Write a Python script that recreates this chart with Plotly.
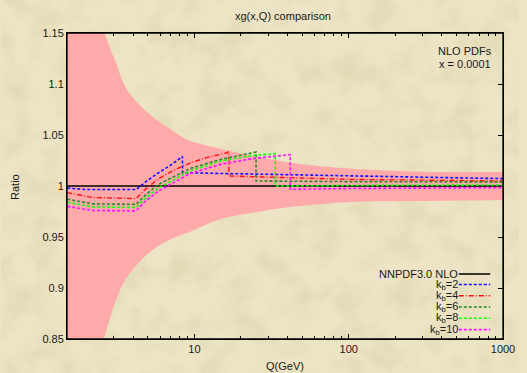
import plotly.graph_objects as go
import base64

# ---------------- data ----------------
band_q = [1.5, 2.0, 2.61, 3.10, 3.59, 4.58, 5.85, 7.46, 9.07, 14.75, 24.05, 39.15, 63.4, 103.8, 274, 1000]
band_up = [0.31, 0.21, 0.150, 0.121, 0.096, 0.077, 0.0635, 0.053, 0.045, 0.0365, 0.0293, 0.0235, 0.0196, 0.017, 0.0143, 0.0137]
band_dn = [0.31, 0.21, 0.148, 0.112, 0.0912, 0.0717, 0.0587, 0.0504, 0.0456, 0.0326, 0.026, 0.0212, 0.0179, 0.0156, 0.0147, 0.0137]

nnpdf_q = [1.5, 1000]
nnpdf_r = [1.0, 1.0]

kb2_q = [1.5, 2.0, 4.18, 4.92, 5.85, 7.10, 8.22, 8.36, 8.36, 39.0, 100, 1000]
kb2_r = [0.998, 0.9965, 0.9965, 1.005, 1.013, 1.021, 1.028, 1.029, 1.013, 1.011, 1.0095, 1.0072]

kb4_q = [1.5, 2.2, 4.18, 4.81, 5.85, 7.46, 9.51, 12.15, 16.27, 16.72, 16.72, 39.15, 100, 1000]
kb4_r = [0.9935, 0.9887, 0.9877, 0.9968, 1.0072, 1.016, 1.023, 1.028, 1.0326, 1.0336, 1.0098, 1.0082, 1.0065, 1.0049]

kb6_q = [1.5, 2.2, 4.18, 4.81, 5.85, 9.3, 14.75, 20.0, 25.08, 25.08, 39.0, 100, 1000]
kb6_r = [0.987, 0.9825, 0.982, 0.991, 1.0017, 1.017, 1.026, 1.030, 1.0333, 1.0049, 1.0046, 1.0043, 1.004]

kb8_q = [1.5, 2.2, 4.18, 4.81, 5.85, 9.3, 14.75, 24.05, 33.44, 33.44, 100, 1000]
kb8_r = [0.984, 0.9795, 0.979, 0.988, 0.998, 1.0145, 1.0245, 1.030, 1.0317, 1.000, 1.0005, 1.001]

kb10_q = [1.5, 2.2, 4.18, 4.81, 5.85, 9.3, 14.75, 24.05, 41.8, 41.8, 100, 1000]
kb10_r = [0.980, 0.976, 0.9756, 0.985, 0.995, 1.012, 1.0212, 1.027, 1.0307, 0.9968, 0.9975, 0.9984]

legend_labels = ["NNPDF3.0 NLO", "k<sub>b</sub>=2", "k<sub>b</sub>=4", "k<sub>b</sub>=6",
                 "k<sub>b</sub>=8", "k<sub>b</sub>=10"]
y_ticks = [0.85, 0.9, 0.95, 1.0, 1.05, 1.1, 1.15]
y_ticklabels = ["0.85", "0.9", "0.95", "1", "1.05", "1.1", "1.15"]
x_ticks = [10, 100, 1000]
x_ticklabels = ["10", "100", "1000"]
x_minor = [2, 3, 4, 5, 6, 7, 8, 9, 20, 30, 40, 50, 60, 70, 80, 90,
           200, 300, 400, 500, 600, 700, 800, 900]

# ---------------- styling ----------------
W, H = 527, 373
ML, MR, MT, MB = 67, 16, 33, 34
PW, PH = W - ML - MR, H - MT - MB
BG = "#ece4c4"
FONT = "Liberation Sans, Arial, sans-serif"
TXT = "#1a1a1a"


def px(xp):
    return (xp - ML) / PW


def py(yp):
    return (H - MB - yp) / PH


series = [
    (nnpdf_q, nnpdf_r, "#000000", "solid", 1.6),
    (kb2_q, kb2_r, "#1010ff", "3px,2px", 1.6),
    (kb4_q, kb4_r, "#ff1010", "5px,2px,1px,2px", 1.4),
    (kb6_q, kb6_r, "#238b23", "3px,2px", 1.6),
    (kb8_q, kb8_r, "#10ff10", "3px,2px", 1.6),
    (kb10_q, kb10_r, "#ff10ff", "3px,2px", 1.6),
]

fig = go.Figure()

# parchment-like background texture (decorative)
svg = (
    f"<svg xmlns='http://www.w3.org/2000/svg' width='{W}' height='{H}'>"
    "<filter id='n'><feTurbulence type='fractalNoise' baseFrequency='0.035' numOctaves='3' seed='7'/>"
    "<feColorMatrix type='matrix' values='0 0 0 0 0.55 0 0 0 0 0.47 0 0 0 0 0.25 0 0 0 1.6 -0.7'/></filter>"
    f"<rect width='{W}' height='{H}' fill='{BG}'/>"
    f"<rect width='{W}' height='{H}' filter='url(#n)' opacity='0.35'/></svg>"
)
src = "data:image/svg+xml;base64," + base64.b64encode(svg.encode()).decode()
fig.add_layout_image(dict(source=src, xref="paper", yref="paper", x=px(0), y=py(0),
                          sizex=W / PW, sizey=H / PH, xanchor="left", yanchor="top",
                          sizing="stretch", layer="below"))

# error band
upper = [1 + u for u in band_up]
lower = [1 - d for d in band_dn]
fig.add_trace(go.Scatter(x=band_q, y=lower, mode="lines",
                         line=dict(width=0, color="#ffaaaa", shape="spline", smoothing=1.0),
                         showlegend=False, hoverinfo="skip"))
fig.add_trace(go.Scatter(x=band_q, y=upper, mode="lines",
                         line=dict(width=0, color="#ffaaaa", shape="spline", smoothing=1.0),
                         fill="tonexty", fillcolor="#ffaaaa", showlegend=False, hoverinfo="skip"))

for (q, r, col, dash, w), name in zip(series, legend_labels):
    fig.add_trace(go.Scatter(x=q, y=r, mode="lines", name=name,
                             line=dict(color=col, dash=dash, width=w), showlegend=False))

shapes = [dict(type="rect", xref="paper", yref="paper", x0=0, x1=1, y0=0, y1=1,
               line=dict(color="#000000", width=1.3), layer="above")]
annotations = []

# custom legend (text on the left, sample on the right, as in gnuplot)
row_y = [274, 284.5, 295.7, 307, 318.3, 329.6]
for (q, r, col, dash, w), name, yy in zip(series, legend_labels, row_y):
    shapes.append(dict(type="line", xref="paper", yref="paper", x0=px(466), x1=px(498),
                       y0=py(yy), y1=py(yy), line=dict(color=col, dash=dash, width=w)))
    annotations.append(dict(text=name, xref="paper", yref="paper", x=px(467), y=py(yy),
                            xanchor="right", yanchor="middle", showarrow=False,
                            font=dict(family=FONT, size=11, color=TXT)))

annotations += [
    dict(text="NLO PDFs", xref="paper", yref="paper", x=px(472), y=py(50.5),
         xanchor="center", yanchor="middle", showarrow=False,
         font=dict(family=FONT, size=11, color=TXT)),
    dict(text="x = 0.0001", xref="paper", yref="paper", x=px(472), y=py(64.5),
         xanchor="center", yanchor="middle", showarrow=False,
         font=dict(family=FONT, size=11, color=TXT)),
    dict(text="xg(x,Q) comparison", xref="paper", yref="paper", x=px(287), y=py(16),
         xanchor="center", yanchor="middle", showarrow=False,
         font=dict(family=FONT, size=11, color=TXT)),
    dict(text="Q(GeV)", xref="paper", yref="paper", x=px(289), y=py(366),
         xanchor="center", yanchor="middle", showarrow=False,
         font=dict(family=FONT, size=11, color=TXT)),
    dict(text="Ratio", xref="paper", yref="paper", x=px(14), y=py(187),
         xanchor="center", yanchor="middle", showarrow=False, textangle=-90,
         font=dict(family=FONT, size=11, color=TXT)),
]

fig.update_layout(
    width=W, height=H,
    margin=dict(l=ML, r=MR, t=MT, b=MB, pad=0),
    paper_bgcolor=BG, plot_bgcolor="rgba(0,0,0,0)",
    showlegend=False,
    shapes=shapes, annotations=annotations,
    font=dict(family=FONT, size=11, color=TXT),
    xaxis=dict(type="log", range=[0.174, 3.0], showgrid=False, zeroline=False,
               tickmode="array", tickvals=x_ticks, ticktext=x_ticklabels,
               ticks="inside", ticklen=5, tickcolor="#000", tickwidth=1,
               showline=True, linecolor="#000", linewidth=1, mirror="ticks",
               layer="below traces",
               minor=dict(tickmode="array", tickvals=x_minor, ticks="inside", ticklen=3,
                          tickcolor="#000", tickwidth=1, showgrid=False),
               tickfont=dict(family=FONT, size=11, color=TXT)),
    yaxis=dict(range=[0.85, 1.15], showgrid=False, zeroline=False,
               tickmode="array", tickvals=y_ticks, ticktext=y_ticklabels,
               ticks="inside", ticklen=5, tickcolor="#000", tickwidth=1,
               showline=True, linecolor="#000", linewidth=1, mirror="ticks",
               layer="below traces",
               tickfont=dict(family=FONT, size=11, color=TXT)),
)

fig.write_html("out.html")
